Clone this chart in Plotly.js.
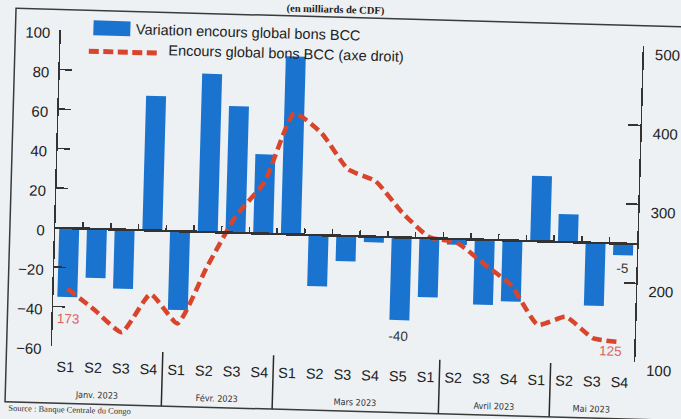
<!DOCTYPE html>
<html><head><meta charset="utf-8">
<script src="https://cdn.plot.ly/plotly-3.0.1.min.js"></script>
<style>
html,body{margin:0;padding:0;overflow:hidden;background:#edf1f3;width:681px;height:419px;}
#chart{width:681px;height:440px;transform:rotate(1.6deg);transform-origin:340.5px 209.5px;}
</style></head><body><div id="chart"></div>
<script>
// ---- data ----
const weekLabels = ["S1","S2","S3","S4","S1","S2","S3","S4","S1","S2","S3","S4","S5","S1","S2","S3","S4","S1","S2","S3","S4"];
const variation = [-35,-25,-30,68,-40,80,64,40,90,-26,-13,-3,-42,-30,-3,-33,-31,33,14,-32,-6];
const encours = [173,147,120,169,133,205,271,315,403,379,334,320,281,251,245,219,193,144,155,129,125];
const months = ["Janv. 2023","Févr. 2023","Mars 2023","Avril 2023","Mai 2023"];
const monthFirst = [0,4,8,14,18];
const monthLast = [3,7,13,17,20];
const seriesNames = ["Variation encours global bons BCC","Encours global bons BCC (axe droit)"];
const lineLabelIdx = [0,20];
const lineLabelText = ["173","125"];
const barLabelIdx = [12,20];
const barLabelText = ["-40","-5"];
const leftRange = [-60,100];
const rightRange = [100,500];
const titleText = "(en milliards de CDF)";
const sourceText = "Source : Banque Centrale du Congo";

// ---- geometry (pixels) ----
const W=681, H=440, L=55.5, R=638, T=37.7, B=354;
const px2x = u => (u-L)/(R-L);
const px2y = v => (B-v)/(B-T);

const idx = weekLabels.map((_,i)=>i);
const bounds = idx.slice(0,-1).map(i=>i+0.5);
const xr = [-0.5, weekLabels.length-0.5];
const barColor = '#1a74cf', lineColor = '#d8452c', labRed = '#e0625c', axCol = '#333';
const font = "Arial, 'Liberation Sans', sans-serif";

const traces = [
  {type:'bar', x:idx, y:variation, name:seriesNames[0], marker:{color:barColor}, showlegend:false, hoverinfo:'skip'},
  {type:'scatter', mode:'lines', x:idx, y:encours, yaxis:'y2', name:seriesNames[1],
   line:{color:lineColor, width:4.5, dash:'10px,5px', shape:'spline', smoothing:0.5}, showlegend:false, hoverinfo:'skip'},
  {type:'scatter', mode:'none', x:[], y:[], xaxis:'x2', yaxis:'y', showlegend:false, hoverinfo:'skip'}
];

const shapes = [];
const annotations = [];
// outer frame
shapes.push({type:'rect', xref:'paper', yref:'paper', x0:px2x(10), x1:px2x(700), y0:px2y(411), y1:px2y(17),
  line:{color:'#3a3a3a', width:1.5}});
// month dividers
for (let k=1;k<months.length;k++){
  shapes.push({type:'line', xref:'x', yref:'paper', x0:monthFirst[k]-0.5, x1:monthFirst[k]-0.5,
    y0:px2y(357), y1:px2y(411), line:{color:'#2a2a2a', width:1.5}});
}
// month labels
months.forEach((m,k)=>{
  annotations.push({xref:'x', yref:'paper', x:(monthFirst[k]+monthLast[k])/2, y:px2y(402),
    xshift: k===0 ? -10 : 0, text:m, showarrow:false, xanchor:'center', yanchor:'middle',
    font:{family:"'Liberation Sans Narrow','Arial Narrow','DejaVu Sans Condensed',sans-serif", size:9, color:'#333'}});
});
// legend
shapes.push({type:'rect', xref:'paper', yref:'paper', x0:px2x(88), x1:px2x(125), y0:px2y(42), y1:px2y(27),
  fillcolor:barColor, line:{width:0}});
shapes.push({type:'line', xref:'paper', yref:'paper', x0:px2x(84), x1:px2x(156), y0:px2y(58), y1:px2y(58),
  line:{color:lineColor, width:5, dash:'10px,4.5px'}});
annotations.push({xref:'paper', yref:'paper', x:px2x(129), y:px2y(35), text:seriesNames[0], showarrow:false,
  xanchor:'left', yanchor:'middle', font:{family:font, size:14.5, color:'#222'}});
annotations.push({xref:'paper', yref:'paper', x:px2x(162), y:px2y(55), text:seriesNames[1], showarrow:false,
  xanchor:'left', yanchor:'middle', font:{family:font, size:14.5, color:'#222'}});
// data labels
const lineShift = [[2,-30],[-10,-9]];
lineLabelIdx.forEach((i,k)=>{
  annotations.push({xref:'x', yref:'y2', x:i, y:encours[i], xshift:lineShift[k][0], yshift:lineShift[k][1],
    text:lineLabelText[k], showarrow:false, font:{family:font, size:13.5, color:labRed}});
});
const barShift = [-16,-13];
barLabelIdx.forEach((i,k)=>{
  annotations.push({xref:'x', yref:'y', x:i, y:variation[i], yshift:barShift[k],
    text:barLabelText[k], showarrow:false, font:{family:font, size:13.5, color:'#333'}});
});
// title (top) and source (bottom), kept fully inside the picture
annotations.push({xref:'paper', yref:'paper', x:px2x(330), y:px2y(3), text:'<b>'+titleText+'</b>', showarrow:false,
  xanchor:'center', yanchor:'top', borderpad:0,
  font:{family:"'Liberation Serif','Times New Roman',serif", size:10.5, color:'#222'}});
annotations.push({xref:'paper', yref:'paper', x:px2x(12), y:px2y(411.5), text:sourceText, showarrow:false,
  xanchor:'left', yanchor:'top', borderpad:0,
  font:{family:"'Liberation Serif',serif", size:8.5, color:'#333'}});

const axBase = {showgrid:false, zeroline:false, fixedrange:true};
const layout = {
  width:W, height:H, margin:{l:L, r:W-R, t:T, b:H-B, pad:0},
  paper_bgcolor:'#edf1f3', plot_bgcolor:'rgba(0,0,0,0)',
  font:{family:font, color:'#222'},
  bargap:0.28, showlegend:false, hovermode:false,
  xaxis:Object.assign({}, axBase, {range:xr, tickmode:'array', tickvals:idx, ticktext:weekLabels,
    showline:false, ticks:'', tickfont:{size:14.5, color:'#222'}, ticklabelstandoff:10}),
  xaxis2:Object.assign({}, axBase, {overlaying:'x', anchor:'free', side:'top',
    position:(0-leftRange[0])/(leftRange[1]-leftRange[0]), range:xr, tickmode:'array', tickvals:bounds,
    ticks:'outside', ticklen:5, tickwidth:1.5, tickcolor:axCol, showline:true, linewidth:2.5, linecolor:axCol,
    showticklabels:false}),
  yaxis:Object.assign({}, axBase, {range:leftRange, tickmode:'linear', tick0:leftRange[0], dtick:20,
    ticks:'inside', ticklen:12, tickwidth:1.5, tickcolor:axCol, showline:true, linewidth:1.5, linecolor:axCol,
    tickfont:{size:15, color:'#222'}, ticklabelstandoff:6, ticklabelshift:3}),
  yaxis2:Object.assign({}, axBase, {overlaying:'y', side:'right', range:rightRange, tickmode:'linear',
    tick0:rightRange[0], dtick:100, ticks:'inside', ticklen:12, tickwidth:1.5, tickcolor:axCol,
    showline:true, linewidth:1.5, linecolor:axCol, tickfont:{size:15, color:'#222'},
    ticklabelstandoff:8, ticklabelshift:8}),
  shapes:shapes, annotations:annotations
};
Plotly.newPlot('chart', traces, layout, {staticPlot:true, displayModeBar:false});
</script></body></html>
